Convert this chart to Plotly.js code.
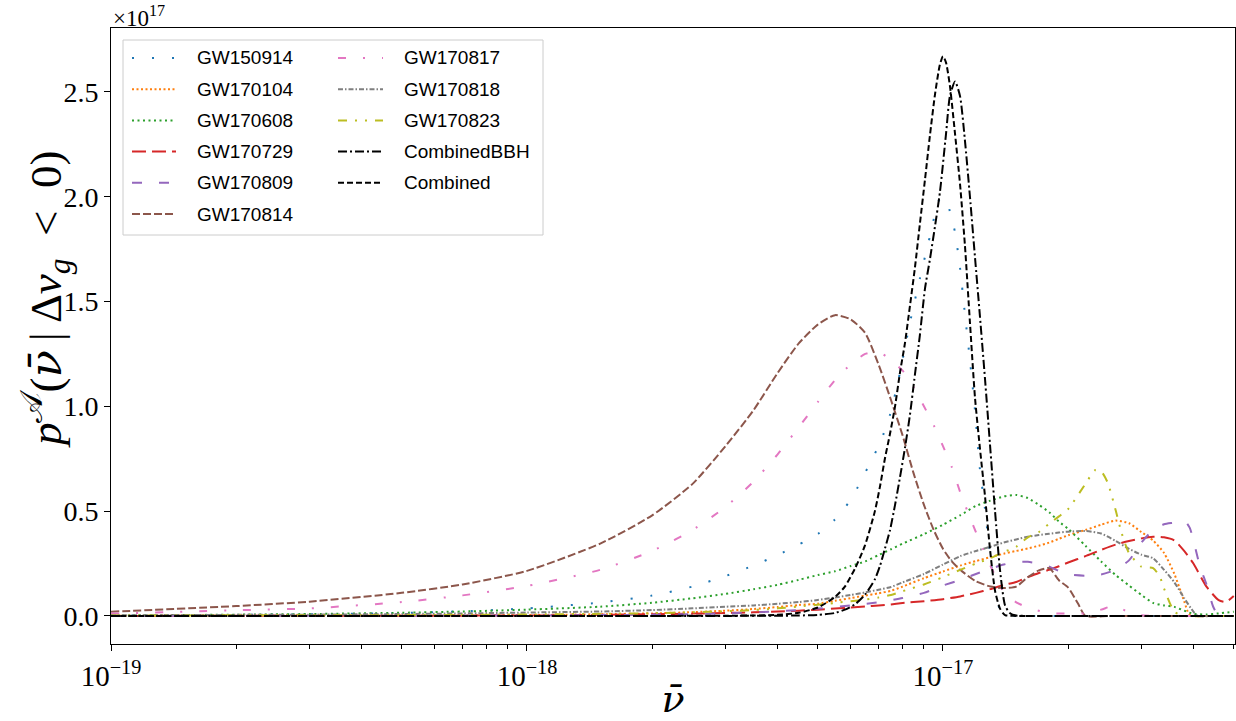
<!DOCTYPE html>
<html><head><meta charset="utf-8">
<script src="https://cdn.plot.ly/plotly-3.0.1.min.js"></script>
<style>html,body{margin:0;padding:0;background:#fff}#chart{width:1236px;height:721px}</style>
</head><body><div id="chart"></div>
<script>
// ---- data (x: nu-bar, y: p^A in units of 1e17) ----
const nu_GW150914 = [1e-19,2e-19,3e-19,5e-19,7e-19,1e-18,1.5e-18,2e-18,2.5e-18,3e-18,3.5e-18,4e-18,4.5e-18,5e-18,5.5e-18,5.98e-18,6.32e-18,6.68e-18,7.06e-18,7.46e-18,7.88e-18,8.33e-18,8.8e-18,9.3e-18,9.83e-18,1.017e-17,1.039e-17,1.069e-17,1.099e-17,1.129e-17,1.161e-17,1.194e-17,1.227e-17,1.262e-17,1.297e-17,1.334e-17,1.371e-17,1.41e-17,1.5e-17,2e-17,3e-17,4e-17,5e-17];
const p_GW150914  = [0.002,0.005,0.008,0.014,0.022,0.036,0.064,0.097,0.14,0.19,0.24,0.29,0.34,0.39,0.46,0.55,0.635,0.73,0.825,0.96,1.16,1.40,1.61,1.81,1.99,1.99,1.93,1.83,1.66,1.44,1.22,0.98,0.70,0.51,0.29,0.124,0.029,0.005,0,0,0,0,0];

const nu_GW170104 = [1e-19,5e-19,1e-18,1.5e-18,2e-18,2.5e-18,3e-18,3.5e-18,4e-18,4.5e-18,5e-18,5.5e-18,6e-18,6.5e-18,7e-18,7.5e-18,8e-18,9e-18,1e-17,1.1e-17,1.2e-17,1.3e-17,1.4e-17,1.5e-17,1.6e-17,1.7e-17,1.8e-17,1.9e-17,2e-17,2.2e-17,2.4e-17,2.6e-17,2.8e-17,3e-17,3.2e-17,3.4e-17,3.6e-17,3.8e-17,3.9e-17,4e-17,4.5e-17,5e-17];
const p_GW170104  = [0.001,0.002,0.004,0.008,0.012,0.018,0.025,0.033,0.042,0.052,0.058,0.072,0.085,0.097,0.108,0.12,0.14,0.18,0.212,0.24,0.262,0.28,0.297,0.31,0.322,0.335,0.35,0.368,0.385,0.41,0.435,0.455,0.442,0.40,0.36,0.30,0.20,0.07,0.01,0,0,0];

const nu_GW170608 = [1e-19,2e-19,3e-19,5e-19,7e-19,1e-18,1.5e-18,2e-18,2.5e-18,3e-18,3.5e-18,4e-18,4.5e-18,5e-18,5.5e-18,6e-18,6.5e-18,7e-18,7.5e-18,8e-18,9e-18,1e-17,1.1e-17,1.2e-17,1.3e-17,1.4e-17,1.5e-17,1.6e-17,1.7e-17,1.8e-17,1.9e-17,2e-17,2.2e-17,2.4e-17,2.6e-17,2.8e-17,3e-17,3.2e-17,3.4e-17,3.6e-17,3.8e-17,4e-17,4.3e-17,4.6e-17,5e-17];
const p_GW170608  = [0.002,0.006,0.009,0.015,0.021,0.03,0.044,0.063,0.084,0.105,0.127,0.148,0.172,0.195,0.213,0.238,0.26,0.29,0.318,0.345,0.39,0.435,0.48,0.525,0.55,0.57,0.577,0.562,0.53,0.495,0.45,0.415,0.335,0.26,0.195,0.145,0.10,0.062,0.05,0.043,0.025,0.01,0.007,0.012,0.02];

const nu_GW170729 = [1e-19,5e-19,1e-18,1.5e-18,2e-18,2.5e-18,3e-18,3.5e-18,4e-18,4.5e-18,5e-18,5.5e-18,6e-18,6.5e-18,7e-18,7.5e-18,8e-18,9e-18,1e-17,1.1e-17,1.2e-17,1.3e-17,1.4e-17,1.5e-17,1.6e-17,1.7e-17,1.8e-17,1.9e-17,2e-17,2.2e-17,2.4e-17,2.6e-17,2.8e-17,3e-17,3.2e-17,3.4e-17,3.6e-17,3.8e-17,4e-17,4.3e-17,4.6e-17,4.79e-17,5e-17];
const p_GW170729  = [0.0,0.001,0.002,0.005,0.008,0.011,0.014,0.017,0.021,0.025,0.03,0.035,0.04,0.045,0.05,0.055,0.062,0.07,0.08,0.093,0.11,0.128,0.148,0.162,0.185,0.205,0.22,0.237,0.255,0.285,0.315,0.34,0.357,0.37,0.378,0.375,0.36,0.31,0.25,0.14,0.075,0.067,0.095];

const nu_GW170809 = [1e-19,1e-18,1.5e-18,2e-18,3e-18,4e-18,5e-18,6e-18,7e-18,8e-18,9e-18,1e-17,1.1e-17,1.2e-17,1.3e-17,1.4e-17,1.5e-17,1.6e-17,1.7e-17,1.8e-17,1.9e-17,2e-17,2.2e-17,2.4e-17,2.6e-17,2.8e-17,3e-17,3.2e-17,3.4e-17,3.6e-17,3.8e-17,3.92e-17,4e-17,4.15e-17,4.3e-17,4.46e-17,4.6e-17,4.8e-17,5e-17];
const p_GW170809  = [0.0,0.002,0.004,0.006,0.012,0.022,0.035,0.05,0.065,0.085,0.11,0.145,0.172,0.2,0.225,0.245,0.258,0.258,0.25,0.235,0.215,0.198,0.192,0.198,0.22,0.265,0.35,0.41,0.437,0.445,0.455,0.42,0.36,0.235,0.15,0.045,0.0,0,0];

const nu_GW170814 = [1e-19,2e-19,3e-19,5e-19,7e-19,1e-18,1.5e-18,2e-18,2.5e-18,3e-18,3.5e-18,4e-18,4.5e-18,5e-18,5.5e-18,6e-18,6.5e-18,7e-18,7.5e-18,8e-18,8.5e-18,9e-18,9.5e-18,1e-17,1.05e-17,1.1e-17,1.15e-17,1.2e-17,1.3e-17,1.4e-17,1.5e-17,1.6e-17,1.7e-17,1.8e-17,1.9e-17,2e-17,2.11e-17,2.2e-17,2.5e-17,3e-17,4e-17,5e-17];
const p_GW170814  = [0.02,0.047,0.068,0.11,0.15,0.215,0.345,0.48,0.63,0.81,0.98,1.158,1.30,1.39,1.435,1.415,1.35,1.20,1.03,0.86,0.68,0.53,0.41,0.32,0.26,0.22,0.19,0.165,0.14,0.133,0.14,0.185,0.217,0.228,0.17,0.135,0.06,0.0,0,0,0,0];

const nu_GW170817 = [1e-19,2e-19,3e-19,5e-19,7e-19,1e-18,1.5e-18,2e-18,2.5e-18,3e-18,3.5e-18,4e-18,4.5e-18,5e-18,5.5e-18,6e-18,6.5e-18,7e-18,7.5e-18,8e-18,8.5e-18,9e-18,9.5e-18,1e-17,1.05e-17,1.1e-17,1.15e-17,1.2e-17,1.3e-17,1.4e-17,1.5e-17,1.6e-17,1.8e-17,2e-17,2.2e-17,2.4e-17,2.6e-17,2.8e-17,3e-17,3.4e-17,4e-17,5e-17];
const p_GW170817  = [0.011,0.027,0.036,0.066,0.098,0.143,0.22,0.31,0.41,0.52,0.64,0.77,0.90,1.02,1.125,1.20,1.25,1.26,1.22,1.17,1.09,1.0,0.91,0.81,0.71,0.59,0.49,0.40,0.24,0.115,0.065,0.04,0.013,0.012,0.012,0.03,0.05,0.015,0.003,0,0,0];

const nu_GW170818 = [1e-19,2e-19,3e-19,5e-19,7e-19,1e-18,1.5e-18,2e-18,2.5e-18,3e-18,3.5e-18,4e-18,4.5e-18,5e-18,5.5e-18,6e-18,6.5e-18,7e-18,7.5e-18,8e-18,9e-18,1e-17,1.1e-17,1.2e-17,1.3e-17,1.4e-17,1.5e-17,1.6e-17,1.7e-17,1.8e-17,1.9e-17,2e-17,2.2e-17,2.4e-17,2.6e-17,2.8e-17,3e-17,3.2e-17,3.4e-17,3.6e-17,3.8e-17,4e-17,4.1e-17,4.5e-17,5e-17];
const p_GW170818  = [0.003,0.005,0.006,0.009,0.012,0.016,0.021,0.028,0.036,0.044,0.05,0.058,0.066,0.076,0.088,0.10,0.112,0.125,0.138,0.16,0.20,0.245,0.285,0.31,0.33,0.35,0.365,0.378,0.386,0.392,0.398,0.402,0.405,0.393,0.358,0.32,0.292,0.275,0.22,0.16,0.085,0.02,0,0,0];

const nu_GW170823 = [1e-19,5e-19,1e-18,1.5e-18,2e-18,2.5e-18,3e-18,3.5e-18,4e-18,4.5e-18,5e-18,5.5e-18,6e-18,6.5e-18,7e-18,7.5e-18,8e-18,9e-18,1e-17,1.1e-17,1.2e-17,1.3e-17,1.4e-17,1.5e-17,1.6e-17,1.7e-17,1.8e-17,1.9e-17,2e-17,2.2e-17,2.32e-17,2.4e-17,2.49e-17,2.6e-17,2.69e-17,2.8e-17,3e-17,3.2e-17,3.32e-17,3.4e-17,3.6e-17,3.8e-17,4.3e-17,5e-17];
const p_GW170823  = [0.002,0.004,0.007,0.01,0.013,0.017,0.022,0.028,0.036,0.045,0.053,0.062,0.07,0.078,0.088,0.1,0.118,0.15,0.185,0.22,0.25,0.275,0.305,0.33,0.375,0.40,0.44,0.475,0.51,0.63,0.695,0.69,0.635,0.505,0.394,0.30,0.235,0.228,0.187,0.13,0.02,0,0,0];

const nu_CombinedBBH = [1e-19,1e-18,3e-18,4e-18,4.5e-18,5e-18,5.5e-18,5.81e-18,6.14e-18,6.49e-18,6.86e-18,7.06e-18,7.25e-18,7.46e-18,7.67e-18,7.88e-18,8.1e-18,8.33e-18,8.56e-18,8.8e-18,9.05e-18,9.3e-18,9.57e-18,9.83e-18,1.017e-17,1.039e-17,1.069e-17,1.099e-17,1.129e-17,1.161e-17,1.194e-17,1.227e-17,1.262e-17,1.297e-17,1.334e-17,1.371e-17,1.41e-17,1.449e-17,1.5e-17,1.6e-17,2e-17,3e-17,4e-17,5e-17];
const p_CombinedBBH  = [0,0,0,0.001,0.002,0.005,0.014,0.03,0.055,0.10,0.175,0.24,0.32,0.41,0.53,0.66,0.80,0.96,1.15,1.34,1.56,1.70,1.86,2.02,2.30,2.48,2.55,2.48,2.27,2.00,1.71,1.43,1.13,0.82,0.50,0.22,0.05,0.013,0.002,0,0,0,0,0];

const nu_Combined = [1e-19,1e-18,2e-18,3e-18,3.5e-18,4e-18,4.5e-18,5e-18,5.5e-18,5.81e-18,6.14e-18,6.49e-18,6.86e-18,7.06e-18,7.25e-18,7.46e-18,7.67e-18,7.88e-18,8.1e-18,8.33e-18,8.56e-18,8.8e-18,9.05e-18,9.3e-18,9.57e-18,9.83e-18,1e-17,1.017e-17,1.039e-17,1.069e-17,1.099e-17,1.129e-17,1.161e-17,1.194e-17,1.227e-17,1.262e-17,1.297e-17,1.334e-17,1.371e-17,1.41e-17,1.5e-17,2e-17,3e-17,4e-17,5e-17];
const p_Combined  = [0,0,0,0.001,0.002,0.005,0.015,0.04,0.09,0.14,0.225,0.335,0.50,0.62,0.75,0.87,1.0,1.16,1.30,1.48,1.66,1.87,2.08,2.29,2.49,2.63,2.67,2.64,2.53,2.30,2.06,1.77,1.40,1.04,0.80,0.57,0.32,0.12,0.035,0.004,0,0,0,0,0];

const names = ["GW150914","GW170104","GW170608","GW170729","GW170809","GW170814","GW170817","GW170818","GW170823","CombinedBBH","Combined"];
const xs = [nu_GW150914,nu_GW170104,nu_GW170608,nu_GW170729,nu_GW170809,nu_GW170814,nu_GW170817,nu_GW170818,nu_GW170823,nu_CombinedBBH,nu_Combined];
const ys = [p_GW150914,p_GW170104,p_GW170608,p_GW170729,p_GW170809,p_GW170814,p_GW170817,p_GW170818,p_GW170823,p_CombinedBBH,p_Combined];
const xTickVals = [1e-19,1e-18,1e-17];
const xTickText = ['10<sup>−19</sup>','10<sup>−18</sup>','10<sup>−17</sup>'];
const yTickVals = [0,0.5,1,1.5,2,2.5];

// ---- styles ----
const colors = ["#1f77b4","#ff7f0e","#2ca02c","#d62728","#9467bd","#8c564b","#e377c2","#7f7f7f","#bcbd22","#000000","#000000"];
const dashes = ["2px,18px","2px,2.5px","2px,3.5px","14px,6px","10px,17px","8px,3px","8px,17px,2px,17px","5px,2px,1.5px,2px","9px,8px,2px,8px,2px,8px","9px,3px,2px,3px","6px,3px"];
const LW = 2;

const traces = names.map((n,i)=>({
  type:'scatter', mode:'lines', name:n, x:xs[i], y:ys[i],
  line:{color:colors[i], width:LW, dash:dashes[i], shape:'spline', smoothing:0.6},
  showlegend:false, hoverinfo:'skip'
}));

// geometry helpers (pixel -> paper)
const L=111, R=1235, T=28, B=644;
const px = v => (v-L)/(R-L);
const py = v => (B-v)/(B-T);

const shapes = [];
const annotations = [];
// legend frame
shapes.push({type:'rect', xref:'paper', yref:'paper', x0:px(123), x1:px(543), y0:py(235), y1:py(40),
  line:{color:'#cccccc', width:1}, fillcolor:'rgba(255,255,255,0.8)', layer:'above'});
names.forEach((n,i)=>{
  const col = i<6?0:1, row = i<6?i:i-6;
  const yc = 58 + row*31.2;
  const lx0 = col===0?132:338, lx1 = col===0?176:383, tx = col===0?195:402;
  shapes.push({type:'line', xref:'paper', yref:'paper', x0:px(lx0), x1:px(lx1), y0:py(yc), y1:py(yc),
    line:{color:colors[i], width:LW, dash:dashes[i]}, layer:'above'});
  annotations.push({xref:'paper', yref:'paper', x:px(tx), y:py(yc), xanchor:'left', yanchor:'middle',
    text:n, showarrow:false, font:{family:'Liberation Sans', size:19, color:'#000'}});
});
annotations.push({xref:'paper', yref:'paper', x:0, y:1, xanchor:'left', yanchor:'bottom', yshift:-5,
  text:'×10<sup>17</sup>', showarrow:false, font:{family:'Liberation Serif', size:23, color:'#000'}});
// y-axis label placed as a rotated annotation so it can sit where the reference puts it
const nubar = '<span style="font-family:DejaVu Serif"><i>ν̄</i></span>';
annotations.push({xref:'paper', yref:'paper', x:0, y:py(300), xanchor:'center', yanchor:'middle', xshift:-66,
  textangle:-90, showarrow:false,
  text:'<i>p</i><sup>𝒜</sup>(' + nubar + '\u2009|\u2009Δ<i>v</i><sub><i>g</i></sub>\u2002&lt;\u20020)',
  font:{family:'Liberation Serif', size:45, color:'#000'}});

const minorVals = [];
for (const k of [-19,-18,-17]) for (let m=2;m<=9;m++){ const v=m*Math.pow(10,k); if (v<5.03e-17) minorVals.push(v); }

const serif = 'Liberation Serif';
const layout = {
  width:1236, height:721,
  margin:{l:L, r:1236-R, t:T, b:721-B, pad:0},
  paper_bgcolor:'#fff', plot_bgcolor:'#fff',
  showlegend:false,
  xaxis:{type:'log', range:[-19,-16.298], tickvals:xTickVals, ticktext:xTickText,
    ticks:'outside', ticklen:6, tickwidth:1, tickcolor:'#000',
    minor:{tickvals:minorVals, ticks:'outside', ticklen:3.5, tickwidth:1, tickcolor:'#000', showgrid:false},
    showline:true, linecolor:'#000', linewidth:1, mirror:true, showgrid:false, zeroline:false,
    tickfont:{family:serif, size:29, color:'#000'},
    title:{text:nubar, font:{family:serif, size:38, color:'#000'}, standoff:4}},
  yaxis:{range:[-0.134,2.805], tickvals:yTickVals, tickformat:'.1f',
    ticks:'outside', ticklen:6, tickwidth:1, tickcolor:'#000',
    showline:true, linecolor:'#000', linewidth:1, mirror:true, showgrid:false, zeroline:false,
    tickfont:{family:serif, size:28, color:'#000'}},
  shapes:shapes, annotations:annotations
};
Plotly.newPlot('chart', traces, layout, {staticPlot:true, displayModeBar:false});
</script></body></html>
